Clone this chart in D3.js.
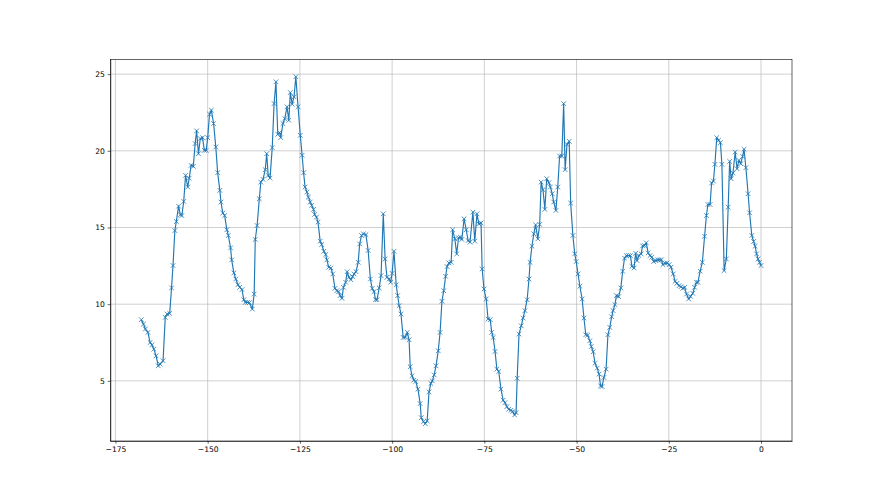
<!DOCTYPE html>
<meta charset="utf-8">
<head>
<script src="https://d3js.org/d3.v7.min.js"></script>
<style>
    body { margin: 0; background: #fff; }
    .axis text { font-family: "DejaVu Sans", sans-serif; font-size: 7.6px; fill: #000; }
    .axis path, .axis line { stroke: #000; stroke-width: 0.6; }
    .grid line { stroke: #b0b0b0; stroke-width: 0.6; }
</style>
</head>
<body>
<div class="viz"></div>
<script>
// hours relative to now
var hours = [
    -168.0, -167.4, -166.9, -166.2, -165.6, -165.1, -164.6, -164.0, -163.4, -162.9,
    -162.1, -161.5, -161.0, -160.3, -159.8, -159.4, -158.9, -158.5, -157.9, -157.4,
    -157.0, -156.5, -156.0, -155.4, -155.0, -154.5, -153.9, -153.4, -153.0, -152.5,
    -152.0, -151.4, -150.9, -150.4, -150.0, -149.5, -149.0, -148.4, -147.8, -147.3,
    -146.7, -146.4, -145.9, -145.4, -144.8, -144.4, -143.8, -143.5, -142.9, -142.4,
    -141.8, -141.3, -140.7, -140.2, -139.8, -139.2, -138.7,
    -137.9, -137.4, -137.1, -136.6, -136.0, -135.6, -135.0, -134.4, -134.0, -133.6,
    -133.1, -132.5, -132.0, -131.5, -131.0, -130.5, -130.2, -129.6, -129.1, -128.5,
    -128.0, -127.6, -127.1, -126.6, -126.1, -125.5, -124.9, -124.4, -124.0, -123.6,
    -123.1, -122.7, -122.2, -121.8, -121.3, -121.0, -120.5, -120.1, -119.5, -119.1,
    -118.5, -118.0, -117.7, -117.2, -116.6, -116.1, -115.5, -115.0, -114.5, -114.1,
    -113.6, -113.2, -112.6, -112.2, -111.7, -111.2, -110.7, -110.3, -109.8, -109.2,
    -108.8, -108.3, -107.8,
    -107.1, -106.5, -105.9, -105.4, -104.9, -104.5, -104.1, -103.5, -103.0, -102.4,
    -101.9, -101.4, -100.8, -100.4, -100.0, -99.5, -98.9, -98.5, -98.1, -97.6,
    -97.0, -96.5, -95.9, -95.4, -95.1, -94.6, -94.1, -93.6, -93.0, -92.4,
    -92.1, -91.5, -91.0, -90.5, -90.0, -89.5, -89.1, -88.6, -88.1, -87.5,
    -87.0, -86.5, -86.0, -85.5, -85.1, -84.6, -84.0, -83.6, -83.0, -82.5,
    -82.0, -81.5, -81.1, -80.5, -79.9, -79.4, -78.9, -78.1,
    -77.6, -77.0, -76.5, -75.9, -75.6, -75.1, -74.5, -74.0, -73.4, -73.0,
    -72.6, -72.1, -71.6, -71.1, -70.5, -69.9, -69.4, -68.9, -68.4, -67.8,
    -67.3, -66.8, -66.4, -66.1, -65.6, -65.0, -64.5, -64.0, -63.4, -62.9,
    -62.6, -62.1, -61.6, -61.1, -60.5, -60.0, -59.6, -59.1, -58.6, -58.1,
    -57.5, -57.1, -56.6, -56.2, -55.6, -55.1, -54.6, -54.0, -53.5, -53.1,
    -52.6, -52.0, -51.6, -51.0, -50.5, -50.1, -49.6, -49.1, -48.5, -48.0,
    -47.5, -47.0, -46.4, -46.0, -45.5,
    -45.0, -44.4, -43.9, -43.5, -43.1, -42.6, -42.0, -41.5, -41.0, -40.5,
    -40.1, -39.6, -39.2, -38.6, -38.0, -37.5, -37.0, -36.5, -35.9, -35.4,
    -35.0, -34.4, -34.0, -33.6, -33.1, -32.5, -32.1, -31.6, -31.1, -30.6,
    -30.1, -29.6, -29.1, -28.5, -28.0, -27.5, -27.0, -26.6, -26.0, -25.5,
    -24.9, -24.4, -23.8, -23.3, -22.8, -22.2, -21.7, -21.2, -20.7, -20.2,
    -19.6, -19.1, -18.5, -18.0, -17.5, -17.1, -16.5,
    -15.9, -15.3, -14.8, -14.4, -13.8, -13.4, -12.9, -12.5, -12.0, -11.5,
    -11.0, -10.6, -10.0, -9.4, -8.9, -8.5, -8.1, -7.6, -7.0, -6.5,
    -6.0, -5.5, -5.0, -4.6, -4.1, -3.5, -3.1, -2.5, -2.0, -1.6,
    -1.2, -0.8, -0.4, 0.0
];

var values = [
    8.99, 8.70, 8.38, 8.16, 7.50, 7.35, 7.07, 6.63, 5.98, 6.09,
    6.31, 9.14, 9.36, 9.40, 11.06, 12.52, 14.80, 15.39, 16.39, 15.83,
    15.78, 16.70, 18.40, 17.64, 18.22, 19.05, 18.99, 20.47, 21.30, 19.81,
    20.80, 20.86, 20.03, 20.03, 20.86, 22.39, 22.65, 21.78, 20.25, 18.57,
    17.42, 16.66, 15.94, 15.78, 14.85, 14.48, 13.67, 12.89, 12.04, 11.64,
    11.27, 11.10, 10.95, 10.29, 10.12, 10.12, 10.10,
    9.68, 10.66, 14.22, 15.13, 16.87, 17.96, 18.14, 18.77, 19.81, 18.40,
    18.22, 20.21, 23.08, 24.50, 21.08, 21.19, 20.86, 21.78, 22.10, 22.87,
    21.99, 23.80, 23.04, 23.52, 24.83, 22.87, 21.01, 19.71, 18.57, 17.64,
    17.31, 16.98, 16.66, 16.44, 16.18, 15.85, 15.68, 15.35, 14.11, 13.89,
    13.45, 13.24, 12.89, 12.41, 12.36, 11.97, 11.03, 10.88, 10.82, 10.56,
    10.38, 11.10, 11.43, 12.12, 11.75, 11.60, 11.80, 11.97, 12.12, 12.73,
    13.93, 14.48, 14.59,
    14.54, 13.50, 11.64, 11.03, 10.82, 10.29, 10.29, 11.06, 11.86, 15.89,
    12.95, 11.75, 11.64, 11.43, 12.01, 13.45, 11.27, 10.56, 9.90, 9.36,
    7.83, 7.83, 8.16, 7.68, 5.92, 5.33, 5.04, 4.96, 4.46, 3.52,
    2.60, 2.34, 2.21, 2.39, 4.28, 4.83, 5.00, 5.39, 5.98, 6.96,
    8.16, 10.19, 10.88, 11.82, 12.45, 12.69, 12.73, 14.85, 14.26, 13.28,
    14.33, 14.37, 14.22, 15.57, 14.85, 14.15, 14.04, 16.00,
    14.11, 15.89, 15.24, 15.30, 12.30, 10.99, 10.34, 9.03, 8.99, 8.16,
    7.83, 6.92, 5.76, 5.61, 4.46, 3.74, 3.58, 3.32, 3.15, 3.08,
    3.00, 2.78, 2.93, 5.17, 8.05, 8.59, 9.10, 9.58, 10.29, 11.64,
    12.73, 13.78, 14.59, 15.17, 14.26, 15.20, 17.96, 17.46, 16.18, 18.18,
    17.92, 17.64, 17.20, 16.66, 16.11, 17.64, 19.66, 19.66, 23.08, 18.77,
    20.42, 20.62, 16.59, 14.48, 13.28, 12.78, 11.97, 11.17, 10.34, 9.10,
    8.01, 7.98, 7.61, 7.24, 6.90,
    6.15, 5.83, 5.44, 4.67, 4.63, 5.22, 5.76, 8.01, 8.49, 9.18,
    9.58, 9.97, 10.56, 10.49, 11.06, 12.15, 13.00, 13.17, 13.17, 13.17,
    12.47, 12.36, 13.32, 12.84, 13.17, 13.28, 13.80, 13.82, 14.00, 13.34,
    13.17, 13.06, 12.78, 12.84, 12.89, 12.89, 12.89, 12.58, 12.67, 12.69,
    12.58, 12.41, 11.97, 11.49, 11.36, 11.21, 11.14, 11.03, 11.10, 10.66,
    10.34, 10.51, 10.71, 11.10, 11.43, 11.43, 12.15,
    12.73, 14.43, 15.78, 16.50, 16.50, 17.90, 18.03, 19.12, 20.86, 20.69,
    20.53, 19.12, 12.19, 12.95, 16.33, 19.31, 18.18, 18.55, 19.92, 18.83,
    19.38, 19.16, 19.64, 20.10, 18.90, 17.20, 15.96, 14.48, 14.09, 13.78,
    13.28, 12.95, 12.73, 12.52
];

var xTicks = [-175, -150, -125, -100, -75, -50, -25, 0];
var yTicks = [5, 10, 15, 20, 25];

var width = 880,
    height = 495;
var margin = {left: 110.3, right: 88, top: 59.4, bottom: 54};

var data = hours.map(function(h, i) { return {x: h, y: values[i]}; });

// matplotlib style 5% padding on each side
function padded(ext) {
    var d = (ext[1] - ext[0]) * 0.05;
    return [ext[0] - d, ext[1] + d];
}

var x = d3.scaleLinear()
    .domain(padded(d3.extent(hours)))
    .range([margin.left, width - margin.right]);

var y = d3.scaleLinear()
    .domain(padded(d3.extent(values)))
    .range([height - margin.bottom, margin.top]);

var svg = d3.select("div.viz").append("svg")
    .attr("width", width)
    .attr("height", height);

var fmt = function(d) { return d < 0 ? "\u2212" + Math.abs(d) : String(d); };

// grid
var grid = svg.append("g").attr("class", "grid");
grid.selectAll("line.gx")
    .data(xTicks)
    .enter().append("line")
    .attr("x1", function(d) { return x(d); })
    .attr("x2", function(d) { return x(d); })
    .attr("y1", y.range()[0])
    .attr("y2", y.range()[1]);
grid.selectAll("line.gy")
    .data(yTicks)
    .enter().append("line")
    .attr("class", "gy")
    .attr("y1", function(d) { return y(d); })
    .attr("y2", function(d) { return y(d); })
    .attr("x1", x.range()[0])
    .attr("x2", x.range()[1]);

var line = d3.line()
    .x(function(d) { return x(d.x); })
    .y(function(d) { return y(d.y); });

svg.append("path")
    .datum(data)
    .attr("d", line)
    .style("fill", "none")
    .style("stroke", "#1f77b4")
    .style("stroke-width", 1.15)
    .style("stroke-linejoin", "round");

var m = 2.3;
svg.append("g").selectAll("path")
    .data(data)
    .enter().append("path")
    .attr("d", function(d) {
        var cx = x(d.x), cy = y(d.y);
        return "M" + (cx - m) + "," + (cy - m) + "L" + (cx + m) + "," + (cy + m) +
               "M" + (cx - m) + "," + (cy + m) + "L" + (cx + m) + "," + (cy - m);
    })
    .style("stroke", "#1f77b4")
    .style("stroke-width", 0.8)
    .style("fill", "none");

// axes
svg.append("g")
    .attr("class", "axis")
    .attr("transform", "translate(0," + y.range()[0] + ")")
    .call(d3.axisBottom(x).tickValues(xTicks).tickFormat(fmt).tickSize(2.7).tickPadding(2.7).tickSizeOuter(0));

svg.append("g")
    .attr("class", "axis")
    .attr("transform", "translate(" + x.range()[0] + ",0)")
    .call(d3.axisLeft(y).tickValues(yTicks).tickFormat(fmt).tickSize(2.7).tickPadding(2.7).tickSizeOuter(0));

// frame
svg.append("rect")
    .attr("x", x.range()[0])
    .attr("y", y.range()[1])
    .attr("width", x.range()[1] - x.range()[0])
    .attr("height", y.range()[0] - y.range()[1])
    .style("fill", "none")
    .style("stroke", "#000")
    .style("stroke-width", 0.6);
</script>
</body>
